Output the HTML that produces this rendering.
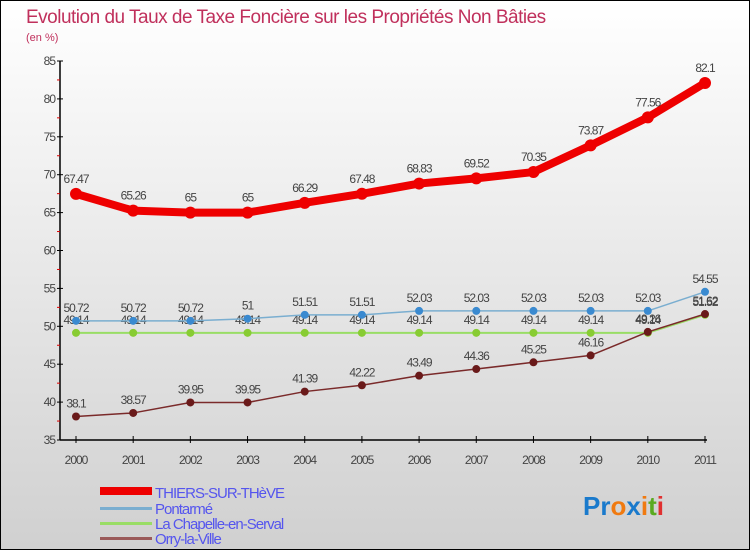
<!DOCTYPE html>
<html><head><meta charset="utf-8"><style>
body{margin:0}
#c{width:750px;height:550px;position:relative;font-family:"Liberation Sans",sans-serif}
svg text{font-family:"Liberation Sans",sans-serif}
</style></head><body>
<div id="c">
<svg id="s" width="750" height="550" xmlns="http://www.w3.org/2000/svg">
<defs><linearGradient id="bg" x1="0" y1="0" x2="0" y2="1"><stop offset="0" stop-color="#ffffff"/><stop offset="1" stop-color="#d0d0d0"/></linearGradient></defs>
<rect x="0.5" y="0.5" width="749" height="549" fill="url(#bg)" stroke="#000"/>
<text x="26" y="23" font-size="19" fill="#c0305c" letter-spacing="-0.5">Evolution du Taux de Taxe Foncière sur les Propriétés Non Bâties</text>
<text x="26" y="41" font-size="11" fill="#c0305c">(en %)</text>
<g id="axes"></g><g id="series"></g>
<g>
<rect x="100" y="487" width="52" height="8" fill="#e00"/>
<text x="155" y="498" font-size="15" fill="#5555ee" letter-spacing="-1">THIERS-SUR-THèVE</text>
<rect x="100" y="507" width="52" height="3" fill="#7aaed0"/>
<text x="155" y="514" font-size="15" fill="#5555ee" letter-spacing="-1">Pontarmé</text>
<rect x="100" y="522" width="52" height="3" fill="#99dd66"/>
<text x="155" y="529" font-size="15" fill="#5555ee" letter-spacing="-1">La Chapelle-en-Serval</text>
<rect x="100" y="537" width="52" height="3" fill="#9a5a5a"/>
<text x="155" y="544" font-size="15" fill="#5555ee" letter-spacing="-1">Orry-la-Ville</text>
</g>
<text x="583" y="515" font-size="26" font-weight="bold"><tspan fill="#1a7acc">Pr</tspan><tspan fill="#f07a10">o</tspan><tspan fill="#1a7acc">x</tspan><tspan fill="#f07a10">i</tspan><tspan fill="#5aaa20">t</tspan><tspan fill="#e03030">i</tspan></text>
</svg></div>
<script>
const years=[2000,2001,2002,2003,2004,2005,2006,2007,2008,2009,2010,2011];
const thiers=[67.47,65.26,65,65,66.29,67.48,68.83,69.52,70.35,73.87,77.56,82.1];
const pontarme=[50.72,50.72,50.72,51,51.51,51.51,52.03,52.03,52.03,52.03,52.03,54.55];
const chapelle=[49.14,49.14,49.14,49.14,49.14,49.14,49.14,49.14,49.14,49.14,49.14,51.52];
const orry=[38.1,38.57,39.95,39.95,41.39,42.22,43.49,44.36,45.25,46.16,49.26,51.62];
const yTicks=[35,40,45,50,55,60,65,70,75,80,85];
const NS="http://www.w3.org/2000/svg";
const X=i=>76+i*(705-76)/(years.length-1);
const Y=v=>440-(v-35)*(440-61)/50;
function mk(t,a,p){const e=document.createElementNS(NS,t);for(const k in a)e.setAttribute(k,a[k]);p.appendChild(e);return e;}
const ax=document.getElementById('axes');
let l=mk('line',{x1:60,y1:Y(85),x2:60,y2:Y(35),stroke:'#000','stroke-width':1.5},ax);


l=mk('line',{x1:60,y1:Y(35),x2:707,y2:Y(35),stroke:'#000','stroke-width':1.5},ax);


yTicks.forEach((v,i)=>{
 mk('line',{x1:57,y1:Y(v),x2:63,y2:Y(v),stroke:'#000'},ax);
 if(i<yTicks.length-1)mk('line',{x1:57,y1:Y(v+2.5),x2:60,y2:Y(v+2.5),stroke:'#d00'},ax);
 const t=mk('text',{x:55,y:Y(v)+4,'font-size':12,fill:'#444','text-anchor':'end','letter-spacing':'-1'},ax);
 t.textContent=v;
 
 
});
years.forEach((y,i)=>{
 mk('line',{x1:X(i),y1:Y(35)-4,x2:X(i),y2:Y(35)+3,stroke:'#000'},ax);
 const t=mk('text',{x:X(i),y:Y(35)+24,'font-size':12,fill:'#444','text-anchor':'middle','letter-spacing':'-1'},ax);
 t.textContent=y;
 
 
});
const sg=document.getElementById('series');
function series(vals,name,color,w,r,dot){
 const g=mk('g',{},sg);
 
 
 mk('polyline',{points:vals.map((v,i)=>X(i)+','+Y(v)).join(' '),fill:'none',stroke:color,'stroke-width':w,'stroke-linejoin':'round'},g);
 vals.forEach((v,i)=>{
  const c=mk('circle',{cx:X(i),cy:Y(v),r:r,fill:dot},g);
  
  
  const t=mk('text',{x:X(i),y:Y(v)-(r+5),'font-size':12,fill:'#444','text-anchor':'middle','letter-spacing':'-1'},g);
  t.textContent=v;
  
  
 });
}
series(chapelle,'chapelle','#99dd66',2,4,'#88cc33');
series(orry,'orry','#7a2a2a',1.5,4,'#6a1a1a');
series(pontarme,'pontarme','#7aaed0',1.5,4,'#3a8ad0');
series(thiers,'thiers','#ee0000',8,6,'#ee0000');
</script>
</body></html>
